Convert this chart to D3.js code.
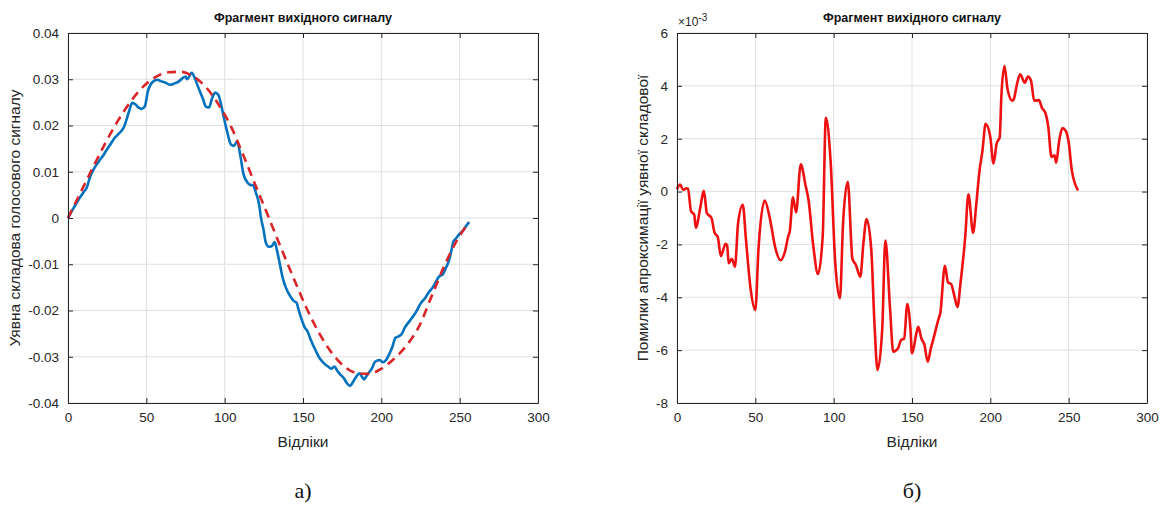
<!DOCTYPE html>
<html>
<head>
<meta charset="utf-8">
<script src="https://cdn.jsdelivr.net/npm/d3@7"></script>
<style>
  body { margin: 0; background: #fff; }
  svg { display: block; font-family: "Liberation Sans", Arial, sans-serif; }
</style>
</head>
<body>
<svg id="chart" width="1164" height="507"></svg>
<script>
// sample index ticks shared by both panels
const xTicks = [0, 50, 100, 150, 200, 250, 300];
const xTickLabels = ["0", "50", "100", "150", "200", "250", "300"];

// panel a: imaginary part of the voice signal (blue) and its approximation (red dashed)
const signalIdx = [0, 4, 7, 10, 12, 14, 17, 20, 23, 25, 27, 30, 32, 34, 36, 37, 39, 41, 43, 45, 47, 49, 51, 54, 57, 59, 62, 65, 68, 71, 73, 75, 76, 79, 81, 83, 86, 88, 90, 92, 94, 96, 98, 100, 102, 104, 106, 108, 110, 112, 115, 117, 118, 120, 122, 123, 125, 126, 128, 130, 132, 133, 135, 137, 139, 141, 144, 146, 147, 149, 151, 153, 155, 158, 161, 164, 166, 168, 170, 172, 174, 176, 178, 180, 182, 184, 186, 188, 189, 191, 194, 196, 199, 201, 203, 205, 207, 209, 211, 213, 215, 218, 221, 223, 225, 228, 230, 233, 235, 237, 239, 241, 243, 245, 246, 248, 250, 252, 254, 256];
const signalValues = [0, 0.0024, 0.0041, 0.0056, 0.0066, 0.0088, 0.0109, 0.0124, 0.0138, 0.0149, 0.0159, 0.0174, 0.0181, 0.0188, 0.0199, 0.0209, 0.0231, 0.0249, 0.0246, 0.0239, 0.0236, 0.0241, 0.0274, 0.0294, 0.0299, 0.0296, 0.0293, 0.0288, 0.0291, 0.0296, 0.0302, 0.0306, 0.0300, 0.0314, 0.0302, 0.0284, 0.0259, 0.0241, 0.0239, 0.0259, 0.0271, 0.0266, 0.0241, 0.0209, 0.0181, 0.0159, 0.0156, 0.0166, 0.0135, 0.0095, 0.0075, 0.0071, 0.0071, 0.0054, 0.0029, 0.0004, -0.0029, -0.0050, -0.0062, -0.0061, -0.0052, -0.0064, -0.0096, -0.0129, -0.0150, -0.0164, -0.0179, -0.0184, -0.0196, -0.0218, -0.0236, -0.0246, -0.0264, -0.0286, -0.0305, -0.0316, -0.0321, -0.0326, -0.0321, -0.0331, -0.0339, -0.0346, -0.0357, -0.0363, -0.0354, -0.0343, -0.0336, -0.0345, -0.0349, -0.0339, -0.0325, -0.0311, -0.0307, -0.0312, -0.0307, -0.0295, -0.0279, -0.0259, -0.0256, -0.0251, -0.0237, -0.0223, -0.0209, -0.0198, -0.0185, -0.0173, -0.0162, -0.0149, -0.0137, -0.0126, -0.0123, -0.0109, -0.0094, -0.0066, -0.0051, -0.0043, -0.0034, -0.0028, -0.0018, -0.0009];
const approxIdx = [0, 8, 16, 24, 32, 40, 48, 56, 64, 72, 80, 88, 96, 104, 112, 120, 128, 136, 144, 152, 160, 168, 176, 184, 192, 200, 208, 216, 224, 232, 240, 248, 256];
const approxValues = [0, 0.0055, 0.0110, 0.0163, 0.0211, 0.0252, 0.0284, 0.0305, 0.0315, 0.0316, 0.0306, 0.0283, 0.0246, 0.0198, 0.0135, 0.0068, 0.0002, -0.0065, -0.0130, -0.0193, -0.0247, -0.0290, -0.0320, -0.0335, -0.0337, -0.0326, -0.0305, -0.0276, -0.0235, -0.0170, -0.0105, -0.0050, -0.0009];
const leftYTicks = [0.04, 0.03, 0.02, 0.01, 0, -0.01, -0.02, -0.03, -0.04];
const leftYTickLabels = ["0.04", "0.03", "0.02", "0.01", "0", "-0.01", "-0.02", "-0.03", "-0.04"];

// panel b: approximation error, in units of 1e-3
const errorIdx = [0, 2, 4, 6, 7, 9, 11, 12, 15, 17, 18, 19, 22, 24, 26, 28, 31, 32, 33, 35, 37, 39, 42, 44, 47, 50, 52, 56, 59, 63, 66, 69, 71, 72, 74, 76, 79, 82, 84, 87, 90, 93, 95, 98, 101, 104, 106, 109, 112, 114, 117, 119, 121, 124, 126, 128, 131, 133, 136, 138, 141, 143, 145, 147, 149, 150, 153, 154, 156, 158, 160, 162, 164, 167, 168, 171, 173, 175, 177, 179, 181, 184, 186, 189, 191, 193, 195, 197, 200, 202, 204, 206, 207, 209, 211, 214, 215, 217, 219, 222, 224, 226, 228, 231, 233, 235, 237, 239, 241, 242, 244, 246, 248, 250, 252, 256];
const errorValues = [0.09, 0.27, 0.06, 0.12, 0.10, -0.75, -0.87, -1.37, -0.56, 0.03, -0.31, -0.81, -1.00, -1.56, -1.71, -2.44, -1.98, -2.04, -2.71, -2.54, -2.84, -1.19, -0.50, -1.81, -3.69, -4.48, -2.19, -0.34, -0.94, -2.19, -2.60, -2.25, -1.69, -1.50, -0.22, -0.79, 1.03, 0.25, -0.34, -2.06, -3.12, -1.69, 2.79, 1.19, -2.69, -4.04, -1.19, 0.37, -2.56, -2.75, -3.22, -1.94, -1.04, -2.19, -4.94, -6.75, -5.19, -1.85, -4.44, -6.06, -5.94, -5.62, -5.56, -4.26, -5.19, -6.12, -5.31, -5.12, -5.56, -5.81, -6.44, -5.94, -5.50, -4.81, -4.62, -2.81, -3.44, -3.50, -3.94, -4.37, -3.44, -1.69, -0.10, -1.56, -0.50, 0.75, 1.56, 2.56, 2.06, 1.06, 1.81, 2.06, 3.56, 4.75, 3.87, 3.44, 3.50, 4.06, 4.44, 4.12, 4.35, 4.19, 3.44, 3.46, 3.16, 3.00, 2.44, 1.31, 1.37, 1.09, 1.94, 2.40, 2.31, 1.87, 0.81, 0.04];
const rightYTicks = [6, 4, 2, 0, -2, -4, -6, -8];
const rightYTickLabels = ["6", "4", "2", "0", "-2", "-4", "-6", "-8"];

const svg = d3.select("#chart");
const axisColor = "#262626";

function drawPanel(opts) {
  const { left, right, top, bottom } = opts;
  const x = d3.scaleLinear().domain([0, 300]).range([left, right]);
  const y = d3.scaleLinear().domain(opts.yDomain).range([bottom, top]);
  const g = svg.append("g");

  // grid
  g.append("g").selectAll("line").data(xTicks).join("line")
    .attr("x1", (d) => x(d)).attr("x2", (d) => x(d))
    .attr("y1", top).attr("y2", bottom)
    .attr("stroke", "#dfdfdf").attr("stroke-width", 1);
  g.append("g").selectAll("line").data(opts.yTicks).join("line")
    .attr("x1", left).attr("x2", right)
    .attr("y1", (d) => y(d)).attr("y2", (d) => y(d))
    .attr("stroke", "#dfdfdf").attr("stroke-width", 1);

  // series
  opts.series.forEach((s) => {
    const pts = s.idx.map((d, i) => [d, s.values[i]]);
    g.append("path")
      .datum(pts)
      .attr("fill", "none")
      .attr("stroke", s.color)
      .attr("stroke-width", s.width)
      .attr("stroke-dasharray", s.dash || null)
      .attr("stroke-linejoin", "round")
      .attr("d", d3.line().x((d) => x(d[0])).y((d) => y(d[1])).curve(d3.curveMonotoneX));
  });

  // axes (box with inner ticks on all sides)
  const tick = 5;
  g.append("g").attr("transform", `translate(0,${bottom})`)
    .call(d3.axisBottom(x).tickValues(xTicks).tickSizeInner(-tick).tickSizeOuter(0)
      .tickPadding(9).tickFormat((d, i) => xTickLabels[i]));
  g.append("g").attr("transform", `translate(0,${top})`)
    .call(d3.axisTop(x).tickValues(xTicks).tickSizeInner(-tick).tickSizeOuter(0).tickFormat(""));
  g.append("g").attr("transform", `translate(${left},0)`)
    .call(d3.axisLeft(y).tickValues(opts.yTicks).tickSizeInner(-tick).tickSizeOuter(0)
      .tickPadding(9).tickFormat((d, i) => opts.yTickLabels[i]));
  g.append("g").attr("transform", `translate(${right},0)`)
    .call(d3.axisRight(y).tickValues(opts.yTicks).tickSizeInner(-tick).tickSizeOuter(0).tickFormat(""));
  g.selectAll(".domain").attr("stroke", axisColor).attr("stroke-width", 1);
  g.selectAll(".tick line").attr("stroke", axisColor);
  g.selectAll(".tick text").attr("fill", axisColor).attr("font-size", 13.5)
    .attr("font-family", "Liberation Sans, Arial, sans-serif");

  const cx = (left + right) / 2;
  g.append("text").attr("x", cx).attr("y", 22).attr("text-anchor", "middle")
    .attr("font-weight", "bold").attr("font-size", 12.5).attr("fill", "#111")
    .text(opts.title);
  g.append("text").attr("x", cx).attr("y", 447).attr("text-anchor", "middle")
    .attr("font-size", 15.5).attr("fill", axisColor).text("Відліки");
  g.append("text")
    .attr("transform", `translate(${opts.yLabelX},${(top + bottom) / 2}) rotate(-90)`)
    .attr("text-anchor", "middle").attr("font-size", 15.5).attr("fill", axisColor)
    .text(opts.yLabel);
  g.append("text").attr("x", cx).attr("y", 498).attr("text-anchor", "middle")
    .attr("font-family", "Liberation Serif, serif").attr("font-size", 22).attr("fill", "#111")
    .text(opts.caption);
  return g;
}

drawPanel({
  left: 68, right: 538, top: 33, bottom: 403, yLabelX: 20,
  yDomain: [-0.04, 0.04], yTicks: leftYTicks, yTickLabels: leftYTickLabels,
  title: "Фрагмент вихідного сигналу",
  yLabel: "Уявна складова голосового сигналу",
  caption: "а)",
  series: [
    { idx: signalIdx, values: signalValues, color: "#0072bd", width: 2.6 },
    { idx: approxIdx, values: approxValues, color: "#d9262b", width: 2.6, dash: "9,6" },
  ],
});

const right = drawPanel({
  left: 677, right: 1147, top: 33, bottom: 403, yLabelX: 648,
  yDomain: [-8, 6], yTicks: rightYTicks, yTickLabels: rightYTickLabels,
  title: "Фрагмент вихідного сигналу",
  yLabel: "Помилки апроксимації уявної складової",
  caption: "б)",
  series: [
    { idx: errorIdx, values: errorValues, color: "#ee1111", width: 2.6 },
  ],
});

// exponent label
const exp = right.append("text").attr("x", 678).attr("y", 26)
  .attr("font-size", 12).attr("fill", axisColor);
exp.append("tspan").text("×10");
exp.append("tspan").attr("dy", -5).attr("font-size", 10).text("-3");
</script>
</body>
</html>
